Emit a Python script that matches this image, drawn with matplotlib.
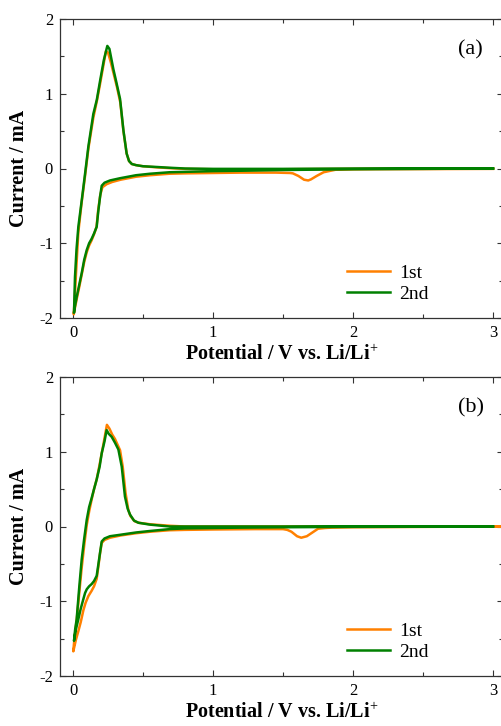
import numpy as np
import matplotlib.pyplot as plt
from matplotlib.ticker import MultipleLocator

plt.rcParams['font.family'] = ['Liberation Serif', 'DejaVu Serif']
plt.rcParams['mathtext.fontset'] = 'custom'
plt.rcParams['mathtext.rm'] = 'Liberation Serif'
plt.rcParams['mathtext.bf'] = 'Liberation Serif:bold'
plt.rcParams['axes.unicode_minus'] = False

# CV loops: cathodic scan 3.0 V -> 0 V, then anodic scan 0 V -> 3.0 V
# panel (a), 1st cycle
a1_v = [3.0, 2.5, 2.0, 1.88, 1.84, 1.79, 1.74, 1.70, 1.68, 1.65, 1.61, 1.57, 1.55, 1.45,
        1.2, 1.0, 0.8, 0.69, 0.55, 0.45, 0.34, 0.28, 0.24, 0.21, 0.195, 0.18, 0.168,
        0.15, 0.133, 0.115, 0.098, 0.08, 0.062, 0.045, 0.026, 0.012, 0.005,
        0.012, 0.02, 0.038, 0.062, 0.086, 0.11, 0.145, 0.17, 0.193, 0.215, 0.235, 0.25,
        0.27, 0.29, 0.315, 0.338, 0.36, 0.383, 0.4, 0.42, 0.45, 0.5, 0.6, 0.69, 0.8, 1.0,
        1.5, 2.0, 2.5, 3.0]
a1_i = [-0.005, -0.008, -0.01, -0.015, -0.03, -0.05, -0.1, -0.145, -0.16, -0.15, -0.1, -0.065,
        -0.06, -0.055, -0.055, -0.06, -0.065, -0.07, -0.09, -0.11, -0.15, -0.18, -0.21, -0.25,
        -0.35, -0.55, -0.78, -0.88, -0.96, -1.03, -1.12, -1.25, -1.42, -1.58, -1.75, -1.88,
        -1.95,
        -1.75, -1.45, -0.85, -0.45, -0.1, 0.27, 0.68, 0.9, 1.13, 1.36, 1.57, 1.55,
        1.42, 1.27, 1.08, 0.88, 0.5, 0.2, 0.1, 0.06, 0.045, 0.03, 0.015, 0.005, -0.005, -0.01,
        -0.01, -0.005, 0.0, 0.0]

# panel (a), 2nd cycle
a2_v = [3.0, 2.5, 2.0, 1.5, 1.2, 1.0, 0.8, 0.69, 0.55, 0.45, 0.336, 0.264, 0.225, 0.205,
        0.193, 0.18, 0.169, 0.15, 0.133, 0.115, 0.098, 0.08, 0.062, 0.045, 0.026, 0.012,
        0.007,
        0.014, 0.025, 0.038, 0.062, 0.086, 0.11, 0.145, 0.17, 0.193, 0.22, 0.245, 0.26,
        0.288, 0.31, 0.336, 0.36, 0.383, 0.4, 0.42, 0.45, 0.5, 0.6, 0.69, 0.8, 1.0, 1.5,
        2.0, 2.5, 3.0]
a2_i = [0.0, -0.005, -0.01, -0.02, -0.03, -0.035, -0.045, -0.05, -0.07, -0.09, -0.13, -0.16,
        -0.19, -0.23, -0.38, -0.58, -0.78, -0.87, -0.94, -1.0, -1.09, -1.22, -1.4, -1.55,
        -1.72, -1.86, -1.93,
        -1.45, -1.08, -0.78, -0.43, -0.07, 0.3, 0.73, 0.92, 1.17, 1.45, 1.64, 1.6,
        1.33, 1.15, 0.93, 0.51, 0.2, 0.1, 0.06, 0.045, 0.03, 0.02, 0.01, 0.0, -0.005, -0.005,
        0.0, 0.0, 0.0]

# panel (b), 1st cycle
b1_v = [3.05, 2.5, 2.0, 1.85, 1.8, 1.75, 1.71, 1.67, 1.63, 1.6, 1.56, 1.53, 1.5, 1.3,
        1.0, 0.8, 0.69, 0.55, 0.45, 0.34, 0.264, 0.225, 0.205, 0.193, 0.18, 0.169, 0.15,
        0.133, 0.11, 0.09, 0.074, 0.055, 0.038, 0.02, 0.008, 0.002,
        0.01, 0.026, 0.045, 0.062, 0.08, 0.098, 0.115, 0.133, 0.15, 0.169, 0.19, 0.215,
        0.242, 0.26, 0.28, 0.3, 0.336, 0.355, 0.375, 0.395, 0.41, 0.44, 0.47, 0.55, 0.69,
        0.8, 1.0, 1.5, 2.0, 2.5, 3.05]
b1_i = [0.0, -0.005, -0.01, -0.015, -0.02, -0.03, -0.08, -0.13, -0.15, -0.13, -0.07, -0.045,
        -0.035, -0.035, -0.04, -0.045, -0.05, -0.07, -0.09, -0.12, -0.15, -0.18, -0.22,
        -0.36, -0.55, -0.7, -0.8, -0.86, -0.93, -1.02, -1.12, -1.28, -1.4, -1.52, -1.62,
        -1.67,
        -1.5, -1.26, -0.88, -0.55, -0.25, 0.02, 0.2, 0.36, 0.5, 0.63, 0.83, 1.08,
        1.36, 1.31, 1.23, 1.17, 1.02, 0.8, 0.45, 0.22, 0.14, 0.07, 0.05, 0.03, 0.01,
        0.0, 0.0, 0.0, 0.0, 0.0, 0.0]

# panel (b), 2nd cycle
b2_v = [3.0, 2.5, 2.0, 1.5, 1.2, 1.0, 0.8, 0.69, 0.55, 0.45, 0.34, 0.264, 0.225, 0.205,
        0.193, 0.18, 0.169, 0.15, 0.133, 0.115, 0.098, 0.086, 0.074, 0.055, 0.038, 0.02,
        0.007,
        0.015, 0.026, 0.045, 0.062, 0.08, 0.098, 0.115, 0.133, 0.15, 0.169, 0.19, 0.205,
        0.225, 0.24, 0.255, 0.276, 0.3, 0.324, 0.348, 0.371, 0.39, 0.407, 0.435, 0.467,
        0.55, 0.69, 0.8, 1.0, 1.5, 2.0, 2.5, 3.0]
b2_i = [0.0, -0.003, -0.005, -0.01, -0.015, -0.02, -0.025, -0.035, -0.06, -0.08, -0.11, -0.13,
        -0.16, -0.2, -0.35, -0.52, -0.66, -0.73, -0.77, -0.8, -0.84, -0.89, -0.97, -1.1,
        -1.24, -1.38, -1.53,
        -1.38, -1.24, -0.8, -0.44, -0.16, 0.09, 0.26, 0.38, 0.5, 0.63, 0.8, 0.98,
        1.14, 1.29, 1.24, 1.2, 1.12, 1.03, 0.8, 0.4, 0.24, 0.16, 0.08, 0.05,
        0.025, 0.0, 0.0, 0.0, 0.0, 0.0, 0.0, 0.0]

panels = [
    ('(a)', a1_v, a1_i, a2_v, a2_i),
    ('(b)', b1_v, b1_i, b2_v, b2_i),
]
cycle_names = ['1st', '2nd']
col1 = '#ff8000'
col2 = '#008000'

W, H = 502, 726
fig = plt.figure(figsize=(W / 100, H / 100), dpi=100)

# axes boxes in pixels: left, top, right, bottom
boxes = [(60, 19, 503, 318), (60, 377, 503, 676)]

for (lab, v1, i1, v2, i2), (l, t, r, b) in zip(panels, boxes):
    ax = fig.add_axes([l / W, 1 - b / H, (r - l) / W, (b - t) / H])
    ax.plot(v1, i1, color=col1, lw=1.8, label=cycle_names[0])
    ax.plot(v2, i2, color=col2, lw=1.8, label=cycle_names[1])

    ax.set_xlim(-0.093, 3.071)
    ax.set_ylim(-2, 2)
    ax.xaxis.set_major_locator(MultipleLocator(1))
    ax.xaxis.set_minor_locator(MultipleLocator(0.5))
    ax.yaxis.set_major_locator(MultipleLocator(1))
    ax.yaxis.set_minor_locator(MultipleLocator(0.5))
    ax.tick_params(which='both', direction='in', top=True, right=True, labelsize=12,
                   width=0.8, color='#333333', pad=5)
    ax.tick_params(which='major', length=4)
    ax.tick_params(which='minor', length=3)
    for s in ax.spines.values():
        s.set_linewidth(0.9)
        s.set_color('#333333')

    ax.set_xlabel('Potential / V vs. Li/Li$^{+}$', fontsize=14.5, fontweight='bold', labelpad=2)
    ax.set_ylabel('Current / mA', fontsize=14.5, fontweight='bold', labelpad=7)
    ax.text(0.927, 0.897, lab, transform=ax.transAxes, fontsize=16, ha='center', va='center')

    ax.legend(loc='lower left', bbox_to_anchor=(0.648, 0.05), frameon=False, fontsize=14,
              handlelength=2.2, handletextpad=0.5, labelspacing=0.2, borderpad=0,
              borderaxespad=0)

fig.savefig('out.png', dpi=100)
